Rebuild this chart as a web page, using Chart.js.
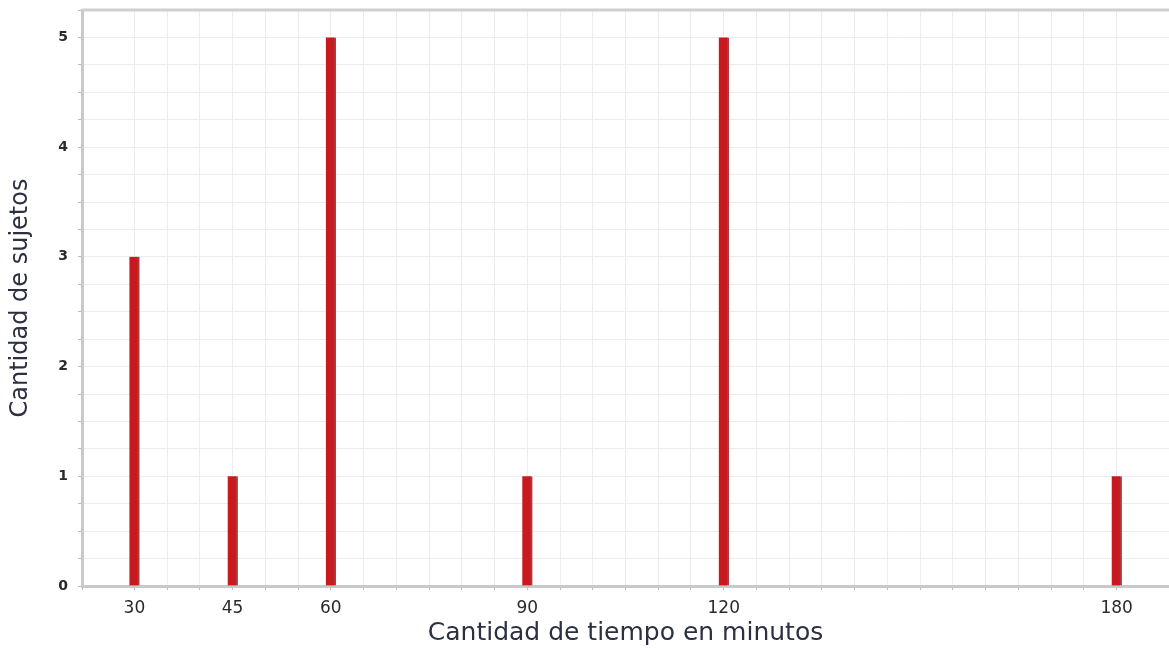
<!DOCTYPE html>
<html>
<head>
<meta charset="utf-8">
<script src="https://cdn.jsdelivr.net/npm/chart.js@4.4.0/dist/chart.umd.min.js"></script>
<style>
  html, body { margin: 0; padding: 0; background: #ffffff; }
  #wrap { width: 1169px; height: 648px; position: relative; }
</style>
</head>
<body>
<div id="wrap"><canvas id="c" width="1169" height="648"></canvas></div>
<script>
const minutes = [30, 45, 60, 90, 120, 180];
const subjects = [3, 1, 5, 1, 5, 1];
const xTickLabels = [30, 45, 60, 90, 120, 180];
const yTickLabels = [0, 1, 2, 3, 4, 5];
const xTitle = 'Cantidad de tiempo en minutos';
const yTitle = 'Cantidad de sujetos';

const FONT = "'DejaVu Sans', 'Open Sans', sans-serif";

new Chart(document.getElementById('c'), {
  type: 'bar',
  data: {
    datasets: [{
      data: minutes.map((m, i) => ({ x: m, y: subjects[i] })),
      backgroundColor: '#c8191e',
      borderColor: '#b0393b',
      borderWidth: { left: 0, right: 2, top: 0, bottom: 0 },
      barThickness: 10
    }]
  },
  options: {
    responsive: false,
    animation: false,
    layout: { autoPadding: false, padding: { top: 10, right: 0, left: 0, bottom: 0 } },
    plugins: { legend: { display: false }, tooltip: { enabled: false } },
    scales: {
      x: {
        type: 'linear',
        offset: false,
        min: 22,
        max: 188,
        ticks: {
          stepSize: 5,
          autoSkip: false,
          maxRotation: 0,
          padding: 8,
          color: '#2a2a2a',
          font: { family: FONT, size: 17 },
          callback: v => xTickLabels.includes(v) ? String(v) : ''
        },
        grid: { offset: false, color: '#ececec', lineWidth: 1, tickLength: 4, tickColor: '#bbbbbb' },
        border: { display: true, color: '#c9c9c9', width: 3 },
        title: {
          display: true,
          text: xTitle,
          color: '#2b3140',
          font: { family: FONT, size: 25 },
          padding: { top: -2, bottom: 0 }
        },
        afterFit: s => { s.height = 62; s.paddingLeft = 0; s.paddingRight = 0; }
      },
      y: {
        min: 0,
        max: 5.25,
        ticks: {
          stepSize: 0.25,
          autoSkip: false,
          padding: 10,
          color: '#2a2a2a',
          font: { family: FONT, size: 14, weight: 'bold' },
          callback: v => yTickLabels.includes(v) ? String(v) : ''
        },
        grid: { color: '#ececec', lineWidth: 1, tickLength: 4, tickColor: '#bbbbbb' },
        border: { display: true, color: '#c9c9c9', width: 3 },
        title: {
          display: true,
          text: yTitle,
          color: '#2b3140',
          font: { family: FONT, size: 24 },
          padding: { top: 6, bottom: 0 }
        },
        afterFit: s => { s.width = 82; s.paddingTop = 0; s.paddingBottom = 0; }
      }
    }
  },
  plugins: [{
    id: 'topBorder',
    afterDraw(chart) {
      const { ctx, chartArea } = chart;
      ctx.save();
      ctx.strokeStyle = '#cfcfcf';
      ctx.lineWidth = 3;
      ctx.beginPath();
      ctx.moveTo(chartArea.left, chartArea.top);
      ctx.lineTo(chartArea.right, chartArea.top);
      ctx.stroke();
      ctx.restore();
    }
  }]
});
</script>
</body>
</html>
